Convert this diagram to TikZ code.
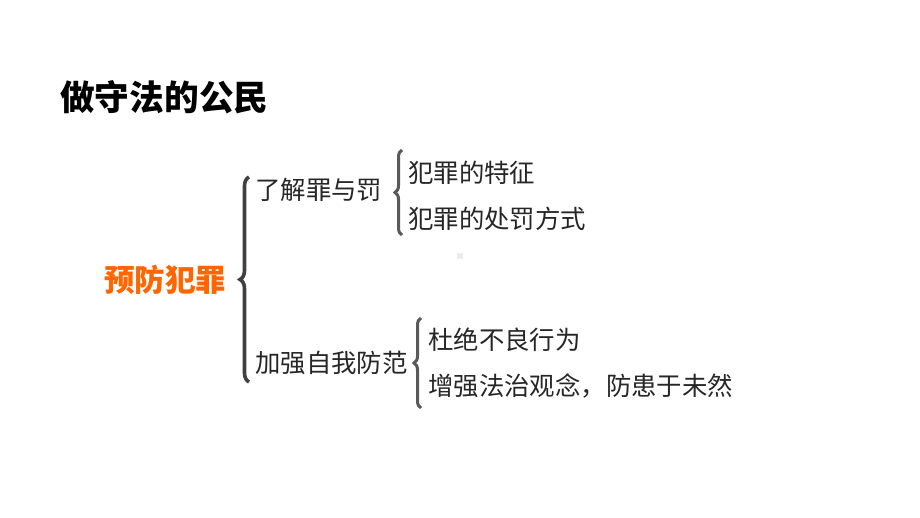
\documentclass[tikz,border=0pt]{standalone}
\usepackage{fontspec}
\setmainfont{Noto Sans CJK SC}
\usetikzlibrary{decorations.pathreplacing}
\definecolor{hot}{RGB}{255,102,0}
\definecolor{ink}{RGB}{38,38,38}
\definecolor{braceink}{RGB}{64,64,64}
\definecolor{subink}{RGB}{89,89,89}

\begin{document}
\begin{tikzpicture}[x=1pt,y=-1pt,
	item/.style={anchor=west,inner sep=0pt,text=ink,font=\fontsize{25.4}{26}\selectfont},
	bigbrace/.style={decorate,decoration={brace,amplitude=9pt},line width=3.6pt,draw=braceink},
	smallbrace/.style={decorate,decoration={brace,amplitude=7pt},line width=3pt,draw=subink}]
	
	\useasboundingbox (0,0) rectangle (920,518);
	\fill[white] (0,0) rectangle (920,518);
	
	\node[anchor=west,inner sep=0pt,font=\fontsize{34.7}{36}\selectfont\bfseries] (title) at (60,97) {做守法的公民};
	\node[anchor=west,inner sep=0pt,text=hot,font=\fontsize{30.5}{32}\selectfont\bfseries] (root) at (104,280) {预防犯罪};
	
	\node[item] (know) at (255,190) {了解罪与罚};
	\node[item] (guard) at (255,363) {加强自我防范};
	\node[item] (trait) at (408,173) {犯罪的特征};
	\node[item] (punish) at (408,219) {犯罪的处罚方式};
	\node[item] (stop) at (428,340) {杜绝不良行为};
	\node[item] (law) at (428,386) {增强法治观念，防患于未然};
	
	\coordinate (b1top) at (249,177);
	\coordinate (b1bot) at (249,382);
	\coordinate (b2top) at (402,150);
	\coordinate (b2bot) at (402,235);
	\coordinate (b3top) at (421,318);
	\coordinate (b3bot) at (421,408);
	
	\draw[bigbrace] (b1bot) -- (b1top);
	\draw[smallbrace] (b2bot) -- (b2top);
	\draw[smallbrace] (b3bot) -- (b3top);
	
	\fill[black!8] (457,253) rectangle (463,259);
	
\end{tikzpicture}
\end{document}
